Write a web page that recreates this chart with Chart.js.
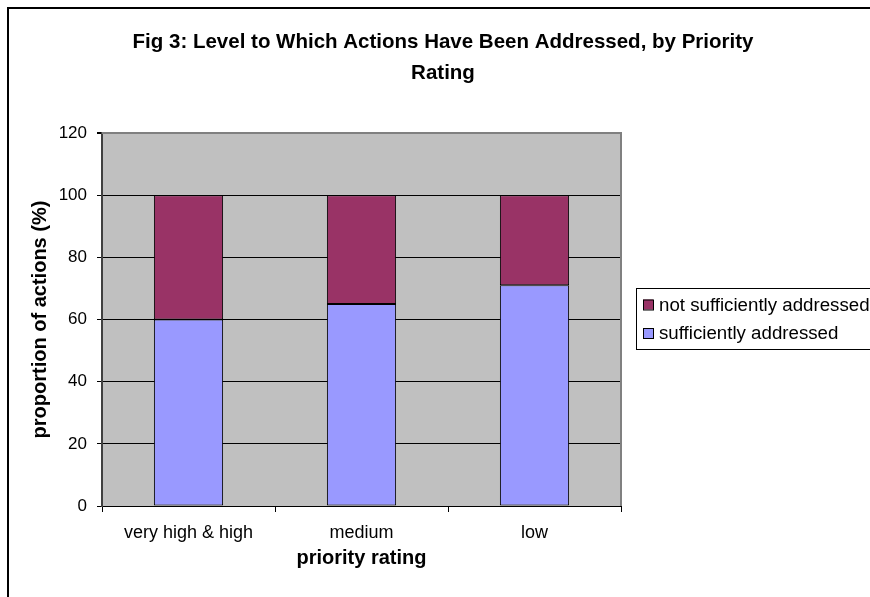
<!DOCTYPE html>
<html>
<head>
<meta charset="utf-8">
<script src="https://cdn.jsdelivr.net/npm/chart.js@4/dist/chart.umd.min.js"></script>
<style>
  html, body { margin: 0; padding: 0; background: #fff; overflow: hidden; }
  #wrap { position: relative; width: 870px; height: 597px; }
</style>
</head>
<body>
<div id="wrap"><canvas id="chart" width="870" height="597"></canvas></div>
<script>
// Priority categories and the share of actions in each state (%)
const categories = ['very high & high', 'medium', 'low'];
const sufficientlyAddressed = [60, 65, 71];
const notSufficientlyAddressed = [40, 35, 29];
const yTicks = [0, 20, 40, 60, 80, 100, 120];

const FONT = "'Liberation Sans', Arial, sans-serif";
const PLOT_BG = '#C0C0C0';
const PLOT_EDGE = '#808080';

// White page, outer frame and grey plot background
const framePlugin = {
  id: 'frame',
  beforeDraw(chart) {
    const ctx = chart.ctx;
    const a = chart.chartArea;
    ctx.save();
    ctx.fillStyle = '#fff';
    ctx.fillRect(0, 0, chart.width, chart.height);
    ctx.fillStyle = '#000';
    ctx.fillRect(7, 7, 2, chart.height - 7);
    ctx.fillRect(7, 7, chart.width - 7, 2);
    ctx.fillStyle = PLOT_BG;
    ctx.fillRect(a.left, a.top, a.right - a.left, a.bottom - a.top);
    ctx.restore();
  },
  beforeDatasetsDraw(chart) {
    const ctx = chart.ctx;
    const a = chart.chartArea;
    ctx.save();
    ctx.strokeStyle = PLOT_EDGE;
    ctx.lineWidth = 2;
    ctx.beginPath();
    ctx.moveTo(a.left, a.top);
    ctx.lineTo(a.right, a.top);
    ctx.lineTo(a.right, a.bottom);
    ctx.stroke();
    ctx.restore();
  }
};

// Boxed legend to the right of the plot, top series listed first
const boxLegendPlugin = {
  id: 'boxLegend',
  afterDraw(chart) {
    const ctx = chart.ctx;
    const a = chart.chartArea;
    const left = a.right + 15;
    const top = 288, bottom = 349;
    ctx.save();
    ctx.strokeStyle = '#000';
    ctx.lineWidth = 1;
    ctx.strokeRect(left + 0.5, top + 0.5, chart.width + 20 - left, bottom - top);
    ctx.font = '18.7px ' + FONT;
    ctx.textBaseline = 'middle';
    ctx.textAlign = 'left';
    const items = chart.data.datasets.slice().reverse();
    items.forEach((ds, i) => {
      const cy = 304.5 + i * 28.5;
      ctx.fillStyle = ds.backgroundColor;
      ctx.fillRect(left + 7, cy - 5, 10, 10);
      ctx.strokeStyle = '#000';
      ctx.strokeRect(left + 7.5, cy - 4.5, 10, 10);
      ctx.fillStyle = '#000';
      ctx.fillText(ds.label, left + 23, cy + 1);
    });
    ctx.restore();
  }
};

new Chart(document.getElementById('chart'), {
  type: 'bar',
  data: {
    labels: categories,
    datasets: [
      {
        label: 'sufficiently addressed',
        data: sufficientlyAddressed,
        backgroundColor: '#9999FF',
        borderColor: '#000',
        borderWidth: 1,
        borderSkipped: false,
        barPercentage: 0.4,
        categoryPercentage: 1.0
      },
      {
        label: 'not sufficiently addressed',
        data: notSufficientlyAddressed,
        backgroundColor: '#993366',
        borderColor: '#000',
        borderWidth: 1,
        borderSkipped: false,
        barPercentage: 0.4,
        categoryPercentage: 1.0
      }
    ]
  },
  options: {
    responsive: false,
    animation: false,
    devicePixelRatio: 1,
    layout: { padding: { left: 16, top: 0, right: 0, bottom: 24 } },
    plugins: {
      legend: { display: false },
      tooltip: { enabled: false },
      title: {
        display: true,
        text: ['Fig 3: Level to Which Actions Have Been Addressed, by Priority', 'Rating'],
        color: '#000',
        font: { family: FONT, size: 20.5, weight: 'bold', lineHeight: '31px' },
        padding: { top: 26.5, bottom: 44.5 }
      }
    },
    scales: {
      x: {
        stacked: true,
        offset: true,
        grid: {
          offset: true,
          drawOnChartArea: false,
          drawTicks: true,
          tickLength: 6,
          tickColor: '#000',
          tickWidth: 1
        },
        border: { display: true, color: '#000', width: 1 },
        ticks: { color: '#000', font: { family: FONT, size: 18 }, padding: 10, maxRotation: 0 },
        title: {
          display: true,
          text: 'priority rating',
          color: '#000',
          font: { family: FONT, size: 20, weight: 'bold' },
          padding: { top: 4, bottom: 3 }
        },
        afterFit(scale) { scale.height = 67; }
      },
      y: {
        stacked: true,
        min: 0,
        max: 120,
        afterBuildTicks(scale) { scale.ticks = yTicks.map(v => ({ value: v })); },
        grid: {
          color: ctx => (ctx.tick && ctx.tick.value === 120 ? PLOT_EDGE : '#000'),
          lineWidth: ctx => (ctx.tick && ctx.tick.value === 120 ? 2 : 1),
          drawTicks: true,
          tickLength: 5,
          tickColor: '#000'
        },
        border: { display: true, color: '#404040', width: 2 },
        ticks: { color: '#000', font: { family: FONT, size: 17 }, padding: 10 },
        title: {
          display: true,
          text: 'proportion of actions (%)',
          color: '#000',
          font: { family: FONT, size: 20, weight: 'bold' },
          padding: { top: 12, bottom: 4 }
        },
        afterFit(scale) { scale.width = 86; }
      },
      legendSpace: {
        type: 'linear',
        position: 'right',
        display: true,
        grid: { display: false, drawTicks: false },
        border: { display: false },
        ticks: { display: false },
        afterFit(scale) { scale.width = 249; }
      }
    }
  },
  plugins: [framePlugin, boxLegendPlugin]
});
</script>
</body>
</html>
